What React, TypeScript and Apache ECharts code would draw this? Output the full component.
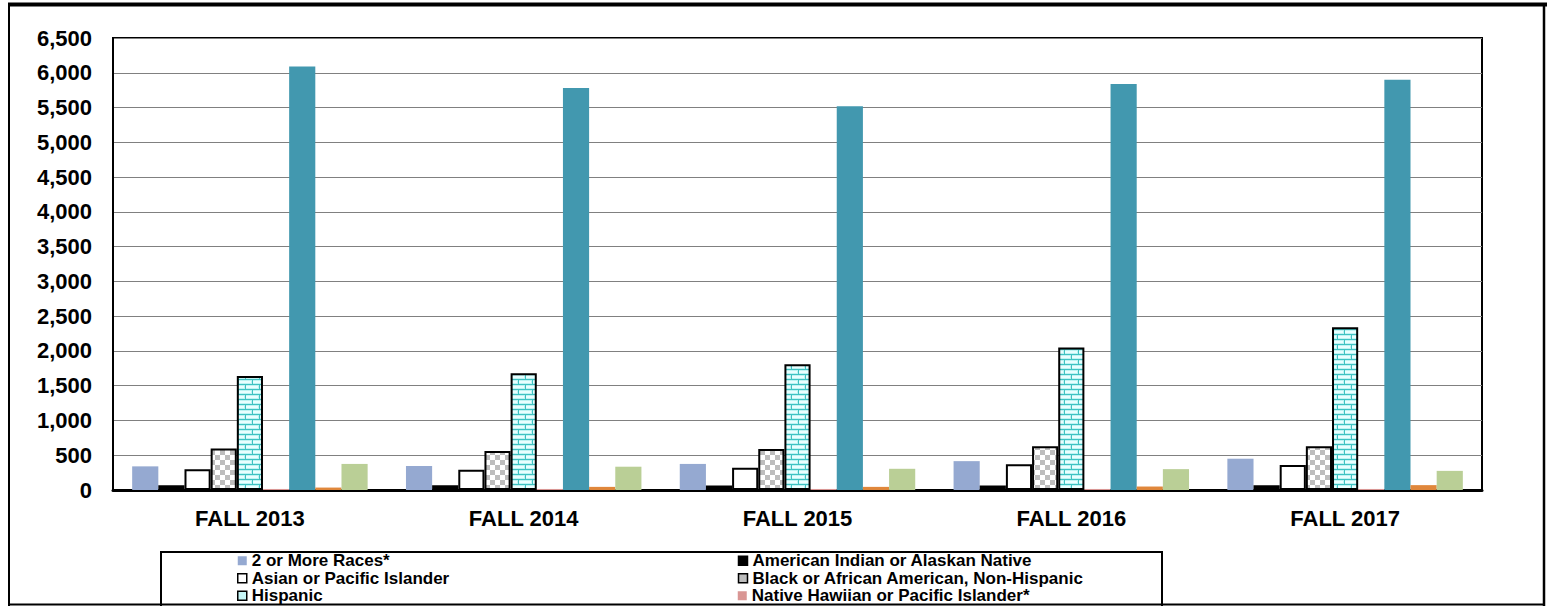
import React, { useEffect, useRef } from "react";
import * as echarts from "echarts";

const categories = ["FALL 2013", "FALL 2014", "FALL 2015", "FALL 2016", "FALL 2017"];

const twoOrMore = [340, 345, 375, 415, 450];
const amIndian = [70, 70, 65, 65, 70];
const asian = [300, 290, 320, 370, 360];
const black = [595, 560, 590, 630, 630];
const hispanic = [1640, 1680, 1810, 2050, 2340];
const nativeHawaiian = [15, 15, 15, 15, 15];
const white = [6090, 5780, 5520, 5840, 5900];
const unknown = [35, 45, 45, 50, 70];
const nonresident = [375, 335, 305, 300, 275];

const seriesNames = [
  "2 or More Races*",
  "American Indian or Alaskan Native",
  "Asian or Pacific Islander",
  "Black or African American, Non-Hispanic",
  "Hispanic",
  "Native Hawiian or Pacific Islander*",
  "White, Non-Hispanic",
  "Unknown",
  "Nonresident Alien",
];

// Only the first six legend entries are visible in the reference (the box runs off the page)
const visibleLegendCount = 6;

const FONT = "'Liberation Sans', Arial, sans-serif";

function makeChecker(): HTMLCanvasElement {
  const c = document.createElement("canvas");
  c.width = 10;
  c.height = 10;
  const g = c.getContext("2d")!;
  g.fillStyle = "#ffffff";
  g.fillRect(0, 0, 10, 10);
  g.fillStyle = "#bdbdbd";
  g.fillRect(0, 0, 5, 5);
  g.fillRect(5, 5, 5, 5);
  return c;
}

function makeBrick(): HTMLCanvasElement {
  const c = document.createElement("canvas");
  c.width = 14;
  c.height = 10;
  const g = c.getContext("2d")!;
  g.fillStyle = "#bff3f3";
  g.fillRect(0, 0, 14, 10);
  g.fillStyle = "#e9ffff";
  g.fillRect(1, 1, 12, 2);
  g.fillRect(0, 6, 6, 2);
  g.fillRect(8, 6, 6, 2);
  g.fillStyle = "#3fc2c2";
  g.fillRect(0, 4, 14, 1);
  g.fillRect(0, 9, 14, 1);
  g.fillRect(0, 0, 1, 4);
  g.fillRect(7, 5, 1, 4);
  return c;
}

export default function App() {
  const ref = useRef<HTMLDivElement>(null);

  useEffect(() => {
    if (!ref.current) return;
    const chart = echarts.init(ref.current, undefined, { renderer: "svg" });
    const checker = { image: makeChecker(), repeat: "repeat" };
    const brick = { image: makeBrick(), repeat: "repeat" };

    const values = [twoOrMore, amIndian, asian, black, hispanic, nativeHawaiian, white, unknown, nonresident];
    const styles: any[] = [
      { color: "#95a9d1" },
      { color: "#000000", borderColor: "#000", borderWidth: 2 },
      { color: "#ffffff", borderColor: "#000", borderWidth: 2 },
      { color: checker, borderColor: "#000", borderWidth: 2 },
      { color: brick, borderColor: "#000", borderWidth: 2 },
      { color: "#d99694" },
      { color: "#4298af" },
      { color: "#e0873b" },
      { color: "#bacf96" },
    ];
    const legendStyles: any[] = [
      { color: "#95a9d1", borderWidth: 0 },
      { color: "#000000", borderColor: "#000", borderWidth: 1.5 },
      { color: "#ffffff", borderColor: "#000", borderWidth: 1.5 },
      { color: "#bdbdbd", borderColor: "#000", borderWidth: 1.5 },
      { color: "#c6f6f6", borderColor: "#000", borderWidth: 1.5 },
      { color: "#d99694", borderWidth: 0 },
      { color: "#4298af", borderWidth: 0 },
      { color: "#e0873b", borderWidth: 0 },
      { color: "#bacf96", borderWidth: 0 },
    ];

    chart.setOption({
      animation: false,
      backgroundColor: "#ffffff",
      textStyle: { fontFamily: FONT },
      grid: {
        left: 113,
        top: 38,
        right: 65,
        bottom: 116,
        show: true,
        borderColor: "#000",
        borderWidth: 2,
        containLabel: false,
      },
      legend: {
        left: 237,
        top: 552,
        width: 1010,
        padding: 0,
        itemGap: 0,
        itemWidth: 9,
        itemHeight: 9,
        icon: "rect",
        selectedMode: false,
        textStyle: {
          fontFamily: FONT,
          fontSize: 17,
          fontWeight: "bold",
          color: "#000",
          width: 486,
          overflow: "truncate",
          lineHeight: 17.5,
        },
        data: seriesNames
          .slice(0, visibleLegendCount)
          .map((n, i) => ({ name: n, itemStyle: legendStyles[i] })),
      },
      xAxis: {
        type: "category",
        data: categories,
        axisLine: { show: true, lineStyle: { color: "#000", width: 3 } },
        axisTick: { show: false },
        axisLabel: {
          margin: 17,
          fontFamily: FONT,
          fontSize: 22,
          fontWeight: "bold",
          color: "#000",
        },
      },
      yAxis: {
        type: "value",
        min: 0,
        max: 6500,
        interval: 500,
        axisLine: { show: true, lineStyle: { color: "#000", width: 2 } },
        axisTick: { show: false },
        splitLine: { show: true, lineStyle: { color: "#808080", width: 1 } },
        axisLabel: {
          margin: 21,
          fontFamily: FONT,
          fontSize: 22,
          fontWeight: "bold",
          color: "#000",
          formatter: (v: number) => v.toLocaleString("en-US"),
        },
      },
      series: seriesNames.map((n, i) => ({
        name: n,
        type: "bar",
        data: values[i],
        barGap: "0%",
        barCategoryGap: "14%",
        itemStyle: styles[i],
      })),
      graphic: [
        {
          type: "line",
          shape: { x1: 8, y1: 4.5, x2: 1547, y2: 4.5 },
          style: { stroke: "#000", lineWidth: 4 },
        },
        {
          type: "line",
          shape: { x1: 9, y1: 4, x2: 9, y2: 606 },
          style: { stroke: "#000", lineWidth: 2 },
        },
        {
          type: "line",
          shape: { x1: 1544, y1: 4, x2: 1544, y2: 606 },
          style: { stroke: "#000", lineWidth: 2.5 },
        },
        {
          type: "line",
          shape: { x1: 8, y1: 604.5, x2: 1545, y2: 604.5 },
          style: { stroke: "#000", lineWidth: 2 },
        },
        {
          type: "rect",
          shape: { x: 161, y: 552, width: 1001, height: 80 },
          style: { fill: "none", stroke: "#000", lineWidth: 2 },
        },
      ],
    });

    return () => chart.dispose();
  }, []);

  return (
    <div
      ref={ref}
      style={{ position: "fixed", left: 0, top: 0, width: 1547, height: 606, background: "#fff" }}
    />
  );
}
